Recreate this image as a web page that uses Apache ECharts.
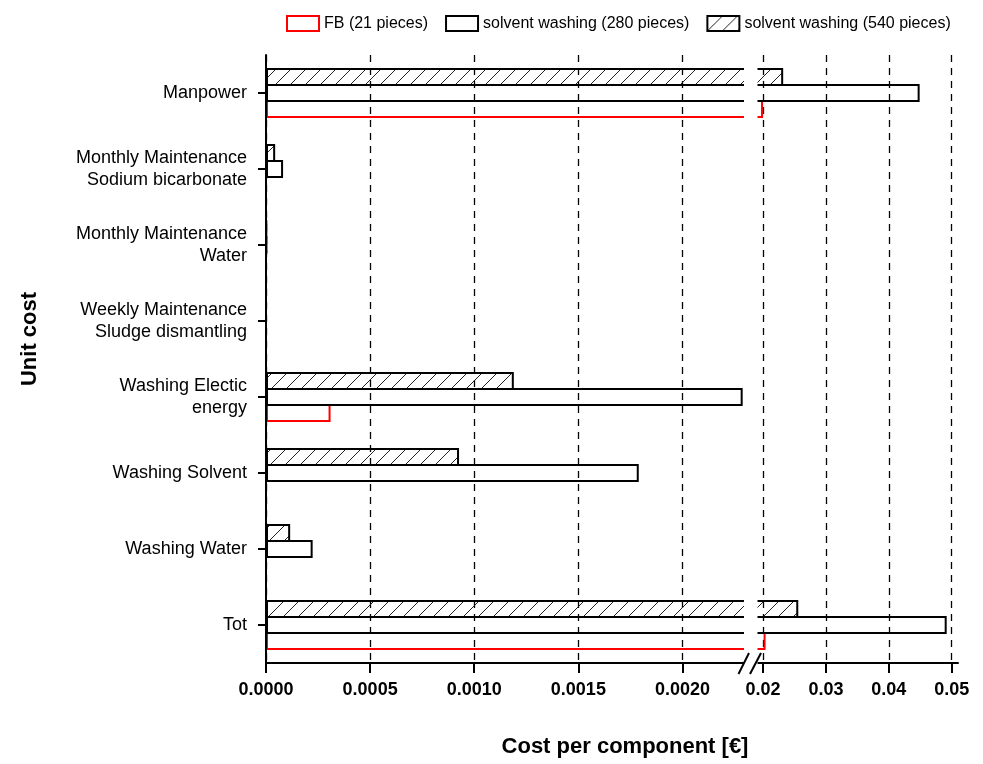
<!DOCTYPE html>
<html>
<head>
<meta charset="utf-8">
<script src="https://cdn.jsdelivr.net/npm/echarts@6/dist/echarts.min.js"></script>
<style>
  html, body { margin: 0; padding: 0; background: #fff; }
  #chart { width: 983px; height: 764px; }
</style>
</head>
<body>
<div id="chart"></div>
<script>
// Cost items (top to bottom)
const categories = [
  'Manpower',
  'Monthly Maintenance\nSodium bicarbonate',
  'Monthly Maintenance\nWater',
  'Weekly Maintenance\nSludge dismantling',
  'Washing Electic\nenergy',
  'Washing Solvent',
  'Washing Water',
  'Tot'
];

// Cost per component [€]
const fb21 = [0.0200, 0, 0, 0, 0.00031, 0, 0, 0.0204];
const sw280 = [0.0449, 0.000082, 0.000004, 0, 0.002289, 0.00179, 0.000224, 0.0492];
const sw540 = [0.0232, 0.000044, 0.000003, 0, 0.00119, 0.000927, 0.000116, 0.0256];

const seriesNames = ['FB (21 pieces)', 'solvent washing (280 pieces)', 'solvent washing (540 pieces)'];

// Broken x axis: a fine lower segment and a coarse upper segment
const lowTicks = [0, 0.0005, 0.0010, 0.0015, 0.0020];
const highTicks = [0.02, 0.03, 0.04, 0.05];
const lowRange = [0, 0.002305];
const highRange = [0.0188, 0.051];

const FONT = 'Liberation Sans, Arial, Helvetica, sans-serif';

function hatchPattern() {
  const c = document.createElement('canvas');
  const s = 15;
  c.width = s; c.height = s;
  const g = c.getContext('2d');
  g.strokeStyle = '#222';
  g.lineWidth = 1;
  g.beginPath();
  g.moveTo(0, s); g.lineTo(s, 0);
  g.moveTo(-2, 2); g.lineTo(2, -2);
  g.moveTo(s - 2, s + 2); g.lineTo(s + 2, s - 2);
  g.stroke();
  return c;
}

const hatch = { image: hatchPattern(), repeat: 'repeat' };

const styles = [
  { color: 'rgba(255,255,255,0)', borderColor: '#ff0000', borderWidth: 2 },
  { color: 'rgba(255,255,255,0)', borderColor: '#000', borderWidth: 2 },
  { color: hatch, borderColor: '#000', borderWidth: 2 }
];
const values = [fb21, sw280, sw540];
// Within each group the first series sits on top: 540, 280, then FB
const stackOrder = [2, 1, 0];

const gridTop = 55, gridHeight = 608;
const leftX = 266, leftW = 480;
const rightX = 755.5, rightW = 202.5;

function makeXAxis(gridIndex, range, ticks, digits) {
  return {
    type: 'value',
    gridIndex: gridIndex,
    min: range[0],
    max: range[1],
    axisLine: { show: true, lineStyle: { color: '#000', width: 2 } },
    axisTick: { show: true, length: 10, customValues: ticks, lineStyle: { color: '#000', width: 2 } },
    axisLabel: {
      customValues: ticks,
      formatter: v => v.toFixed(digits),
      color: '#000',
      fontFamily: FONT,
      fontWeight: 'bold',
      fontSize: 18,
      margin: 18
    },
    splitLine: { show: true, lineStyle: { color: '#000', width: 1.3, type: [7, 6] } }
  };
}

function makeYAxis(gridIndex, show) {
  return {
    type: 'category',
    gridIndex: gridIndex,
    data: categories,
    inverse: true,
    show: show,
    z: 5,
    axisLine: { show: true, lineStyle: { color: '#000', width: 2 } },
    axisTick: { show: true, length: 8, alignWithLabel: true, lineStyle: { color: '#000', width: 2 } },
    axisLabel: {
      color: '#000',
      fontFamily: FONT,
      fontSize: 18,
      lineHeight: 22,
      margin: 19,
      align: 'right'
    },
    splitLine: { show: false }
  };
}

// Neighbouring bars overlap by one border width so they share an edge
const barW = 18;
const barGap = (-2 / barW * 100).toFixed(3) + '%';

const series = [];
[0, 1].forEach(gi => {
  stackOrder.forEach(si => {
    const vals = values[si];
    const data = gi === 0 ? vals.slice() : vals.map(v => (v > highRange[0] ? v : '-'));
    series.push({
      name: seriesNames[si],
      type: 'bar',
      xAxisIndex: gi,
      yAxisIndex: gi,
      data: data,
      barWidth: barW,
      barGap: barGap,
      clip: true,
      z: si === 0 ? 2 : 3,
      itemStyle: styles[si],
      emphasis: { disabled: true },
      animation: false
    });
  });
});

const chart = echarts.init(document.getElementById('chart'), null, { renderer: 'canvas' });
chart.setOption({
  backgroundColor: '#fff',
  animation: false,
  legend: {
    data: seriesNames,
    left: 281,
    top: 10,
    itemWidth: 32,
    itemHeight: 15,
    itemGap: 17,
    icon: 'rect',
    textStyle: { color: '#000', fontFamily: FONT, fontSize: 16 }
  },
  grid: [
    { left: leftX, top: gridTop, width: leftW, height: gridHeight, containLabel: false },
    { left: rightX, top: gridTop, width: rightW, height: gridHeight, containLabel: false }
  ],
  xAxis: [
    makeXAxis(0, lowRange, lowTicks, 4),
    makeXAxis(1, highRange, highTicks, 2)
  ],
  yAxis: [makeYAxis(0, true), makeYAxis(1, false)],
  series: series,
  graphic: [
    {
      type: 'rect',
      z: 100,
      shape: { x: 744, y: 48, width: 13.5, height: 630 },
      style: { fill: '#fff' }
    },
    {
      type: 'line', z: 101,
      shape: { x1: 738.5, y1: 674, x2: 749, y2: 653 },
      style: { stroke: '#000', lineWidth: 2 }
    },
    {
      type: 'line', z: 101,
      shape: { x1: 750, y1: 674, x2: 761, y2: 653 },
      style: { stroke: '#000', lineWidth: 2 }
    },
    {
      type: 'text', z: 101,
      x: 625, y: 747,
      style: {
        text: 'Cost per component [€]',
        font: 'bold 22px ' + FONT,
        fill: '#000',
        textAlign: 'center',
        textVerticalAlign: 'middle'
      }
    },
    {
      type: 'text', z: 101,
      x: 30, y: 339,
      rotation: Math.PI / 2,
      style: {
        text: 'Unit cost',
        font: 'bold 22px ' + FONT,
        fill: '#000',
        textAlign: 'center',
        textVerticalAlign: 'middle'
      }
    }
  ]
});
</script>
</body>
</html>
